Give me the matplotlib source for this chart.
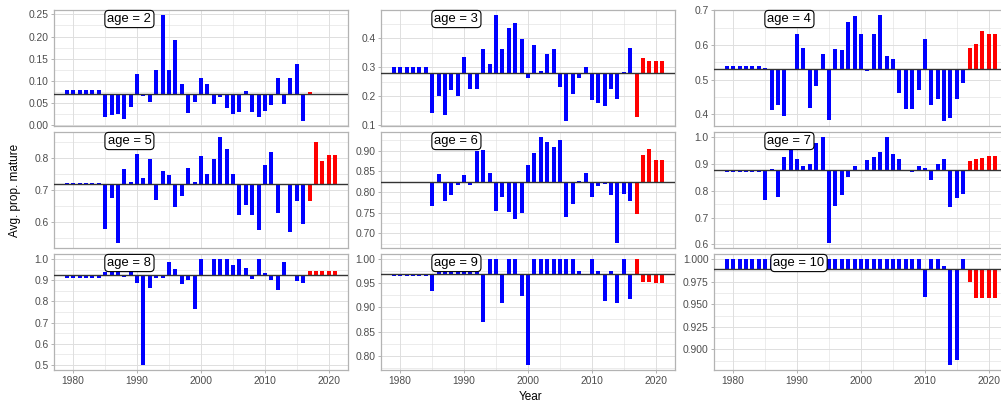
import numpy as np
import matplotlib
matplotlib.use("Agg")
import matplotlib.pyplot as plt
from matplotlib.ticker import MultipleLocator, FormatStrFormatter

plt.rcParams['font.family'] = ['Liberation Sans', 'DejaVu Sans']

years = np.arange(1979, 2022)
first_proj_year = 2017  # years from here on are projected (red)

ages = [2, 3, 4, 5, 6, 7, 8, 9, 10]

# long-term average per age (horizontal reference line)
age_means = [0.0705, 0.281, 0.530, 0.720, 0.824, 0.877, 0.924, 0.969, 0.9895]

prop_age2 = [0.079] * 6 + [
    0.019, 0.023, 0.025, 0.015, 0.041, 0.115, 0.065, 0.052, 0.125, 0.248,
    0.125, 0.192, 0.094, 0.028, 0.052, 0.107, 0.092, 0.048, 0.063, 0.038,
    0.026, 0.029, 0.078, 0.029, 0.019, 0.031, 0.046, 0.107, 0.048, 0.107,
    0.138, 0.010, 0.074, 0.0705, 0.0705, 0.068, 0.068]
prop_age3 = [0.300] * 6 + [
    0.144, 0.202, 0.137, 0.222, 0.200, 0.336, 0.224, 0.226, 0.362, 0.311,
    0.480, 0.362, 0.436, 0.454, 0.398, 0.263, 0.377, 0.287, 0.348, 0.362,
    0.231, 0.116, 0.207, 0.263, 0.300, 0.187, 0.178, 0.167, 0.224, 0.192,
    0.285, 0.366, 0.130, 0.334, 0.321, 0.321, 0.321]
prop_age4 = [0.540] * 6 + [
    0.535, 0.412, 0.427, 0.396, 0.532, 0.633, 0.592, 0.420, 0.481, 0.573,
    0.384, 0.589, 0.587, 0.667, 0.683, 0.631, 0.524, 0.633, 0.686, 0.570,
    0.561, 0.461, 0.416, 0.416, 0.472, 0.619, 0.428, 0.444, 0.382, 0.391,
    0.444, 0.490, 0.592, 0.604, 0.642, 0.632, 0.632]
prop_age5 = [0.722] * 6 + [
    0.579, 0.676, 0.535, 0.767, 0.726, 0.813, 0.739, 0.797, 0.669, 0.761,
    0.748, 0.648, 0.683, 0.770, 0.725, 0.807, 0.751, 0.799, 0.866, 0.829,
    0.751, 0.622, 0.652, 0.622, 0.576, 0.778, 0.821, 0.627, 0.716, 0.569,
    0.666, 0.595, 0.665, 0.851, 0.792, 0.810, 0.810]
prop_age6 = [0.822] * 6 + [
    0.766, 0.843, 0.778, 0.792, 0.817, 0.841, 0.817, 0.900, 0.902, 0.846,
    0.753, 0.788, 0.751, 0.734, 0.749, 0.866, 0.894, 0.932, 0.920, 0.908,
    0.925, 0.740, 0.770, 0.826, 0.846, 0.788, 0.815, 0.819, 0.792, 0.677,
    0.795, 0.779, 0.747, 0.889, 0.904, 0.877, 0.877]
prop_age7 = [0.870] * 6 + [
    0.766, 0.882, 0.776, 0.927, 0.952, 0.918, 0.892, 0.901, 0.978, 1.000,
    0.606, 0.742, 0.786, 0.850, 0.892, 0.875, 0.914, 0.927, 0.945, 1.000,
    0.937, 0.918, 0.877, 0.872, 0.892, 0.886, 0.840, 0.901, 0.920, 0.738,
    0.774, 0.789, 0.912, 0.920, 0.924, 0.930, 0.930]
prop_age8 = [0.909] * 6 + [
    0.942, 0.942, 0.947, 0.915, 0.944, 0.887, 0.500, 0.863, 0.911, 0.911,
    0.987, 0.952, 0.883, 0.904, 0.764, 1.000, 0.919, 1.000, 1.000, 1.000,
    0.971, 1.000, 0.960, 0.907, 1.000, 0.934, 0.903, 0.855, 0.987, 0.927,
    0.895, 0.887, 0.944, 0.944, 0.944, 0.944, 0.944]
prop_age9 = [0.965] * 6 + [0.934] + [0.974] * 7 + [
    0.869, 1.000, 1.000, 0.910, 1.000, 1.000, 0.923, 0.781] + [1.000] * 7 + [
    0.975, 0.969, 1.000, 0.975, 0.913, 0.975, 0.909, 1.000, 0.917,
    1.000, 0.953, 0.953, 0.951, 0.951]
prop_age10 = [1.000] * 31 + [
    0.958, 1.000, 1.000, 0.9926, 0.883, 0.8885, 1.000,
    0.975, 0.9575, 0.9575, 0.9575, 0.9575]

all_props = [prop_age2, prop_age3, prop_age4, prop_age5, prop_age6,
             prop_age7, prop_age8, prop_age9, prop_age10]

# y tick step and decimals for each panel
tick_steps = [0.05, 0.1, 0.1, 0.1, 0.05, 0.1, 0.1, 0.05, 0.025]
tick_decimals = [2, 1, 1, 1, 2, 1, 1, 2, 3]
label_x = [1988.8] * 8 + [1990.3]

W, H = 1001, 407
fig = plt.figure(figsize=(W / 100, H / 100), dpi=100)

col_left = [54, 381, 714]
row_top = [10, 132, 254]
panel_w, panel_h = 294, 116

grid_col = '#DEDEDE'
border_col = '#B3B3B3'
text_col = '#4D4D4D'

for k, (age, base, props) in enumerate(zip(ages, age_means, all_props)):
    r, c = divmod(k, 3)
    ax = fig.add_axes([col_left[c] / W, 1 - (row_top[r] + panel_h) / H,
                       panel_w / W, panel_h / H])
    props = np.array(props)
    colors = np.where(years >= first_proj_year, '#FF0000', '#0000FF')
    ax.bar(years, props - base, bottom=base, width=0.62, color=colors,
           linewidth=0, zorder=3)
    ax.axhline(base, color='#333333', lw=1.0, zorder=4)

    lo = min(props.min(), base)
    hi = max(props.max(), base)
    pad = (hi - lo) * 0.05
    ax.set_ylim(lo - pad, hi + pad)
    ax.set_xlim(1977, 2023)

    step = tick_steps[k]
    ax.yaxis.set_major_locator(MultipleLocator(step))
    ax.yaxis.set_minor_locator(MultipleLocator(step / 2))
    ax.yaxis.set_major_formatter(FormatStrFormatter('%.{}f'.format(tick_decimals[k])))
    ax.xaxis.set_major_locator(MultipleLocator(10))
    ax.xaxis.set_minor_locator(MultipleLocator(5))

    ax.grid(which='major', color=grid_col, lw=0.7, zorder=0)
    ax.grid(which='minor', color=grid_col, lw=0.4, zorder=0)
    ax.set_axisbelow(True)
    for s in ax.spines.values():
        s.set_color(border_col)
        s.set_linewidth(0.9)

    ax.tick_params(which='major', length=2.5, width=0.7, color=border_col,
                   labelsize=7.4, labelcolor=text_col, pad=1.5)
    ax.tick_params(which='minor', length=0)
    if r < 2:
        ax.tick_params(axis='x', labelbottom=False, length=0)

    ax.text(label_x[k], 1 - 9 / panel_h, 'age = {}'.format(age),
            transform=ax.get_xaxis_transform(), ha='center', va='center',
            fontsize=9.4, color='black', zorder=6,
            bbox=dict(boxstyle='round,pad=0.2,rounding_size=0.3',
                      fc='white', ec='black', lw=0.8))

fig.text(15 / W, 1 - 190 / H, 'Avg. prop. mature', rotation=90,
         ha='center', va='center', fontsize=8.5)
fig.text(531 / W, 1 - 397 / H, 'Year', ha='center', va='center', fontsize=8.5)

fig.savefig('out.png', dpi=100)
